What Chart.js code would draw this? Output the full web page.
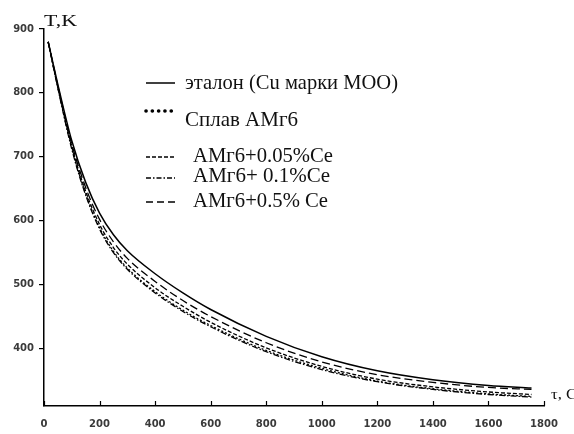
<!DOCTYPE html>
<html>
<head>
<meta charset="utf-8">
<script src="https://cdn.jsdelivr.net/npm/chart.js@4/dist/chart.umd.min.js"></script>
<style>
  html, body { margin: 0; padding: 0; background: #fff; }
</style>
</head>
<body>
<canvas id="chart" width="574" height="434"></canvas>
<script>
// time, s
const times = [15, 50, 100, 150, 200, 250, 300, 400, 500, 600, 800, 1000, 1200, 1400, 1600, 1755];
// temperature, K
const etalon = [880, 813, 725, 660, 612, 578, 553, 517, 487, 461, 419, 387, 365, 351, 342, 338];
const amg6   = [880, 808, 714, 642, 589, 552, 526, 489, 460, 436, 397, 369, 349, 337, 329, 325];
const ce005  = [880, 809, 716, 646, 594, 558, 532, 495, 466, 441, 401, 372, 352, 340, 332, 328];
const ce01   = [880, 807, 712, 640, 587, 550, 524, 487, 458, 434, 395, 367, 348, 336, 328, 324];
const ce05   = [880, 811, 720, 652, 602, 567, 541, 505, 475, 450, 409, 379, 359, 347, 339, 336];

const seriesLabels = [
    'эталон (Cu марки MOO)',
    'Сплав АМг6',
    'АМг6+0.05%Ce',
    'АМг6+ 0.1%Ce',
    'АМг6+0.5% Ce'
];
const xTicks = [0, 200, 400, 600, 800, 1000, 1200, 1400, 1600, 1800];
const yTicks = [400, 500, 600, 700, 800, 900];

const toPoints = (vals) => vals.map((v, i) => ({ x: times[i], y: v }));

// line styles per series (same order as labels)
const dashes = [[], [2, 2], [4, 2], [6, 2, 1.5, 2], [8, 4]];

// legend rows: sample line y, text placement
const legendRows = [
    { lineY: 83,  textX: 185, textY: 83,  textW: 213, dash: [],             width: 1.5, cap: 'butt' },
    { lineY: 111, textX: 185, textY: 120, textW: 113, dash: [0.1, 6.2],     width: 3.6, cap: 'round' },
    { lineY: 157, textX: 193, textY: 156, textW: 140, dash: [4, 2],         width: 1.3, cap: 'butt' },
    { lineY: 178, textX: 193, textY: 176, textW: 137, dash: [5, 2, 1.5, 2], width: 1.3, cap: 'butt' },
    { lineY: 202, textX: 193, textY: 201, textW: 135, dash: [7, 4],         width: 1.5, cap: 'butt' }
];

function fitText(ctx, text, x, y, w, font) {
    ctx.save();
    ctx.font = font;
    const m = ctx.measureText(text).width;
    ctx.translate(x, y);
    ctx.scale(w / m, 1);
    ctx.fillText(text, 0, 0);
    ctx.restore();
}

const decorPlugin = {
    id: 'decor',
    afterDraw(chart) {
        const ctx = chart.ctx;
        const xs = chart.scales.x;
        const ys = chart.scales.y;

        // x tick marks pointing into the plot
        ctx.save();
        ctx.strokeStyle = '#000';
        ctx.lineWidth = 1.2;
        xTicks.forEach(v => {
            const px = Math.round(xs.getPixelForValue(v)) + 0.5;
            ctx.beginPath();
            ctx.moveTo(px, ys.bottom);
            ctx.lineTo(px, ys.bottom - 5);
            ctx.stroke();
        });
        ctx.restore();

        // axis titles
        ctx.save();
        ctx.fillStyle = '#111';
        ctx.textBaseline = 'middle';
        fitText(ctx, 'T,K', 44, 22, 33, '16px "Liberation Serif", serif');
        fitText(ctx, 'τ, C', 551, 395, 26, '15px "Liberation Serif", serif');
        ctx.restore();

        // legend
        ctx.save();
        ctx.fillStyle = '#111';
        ctx.strokeStyle = '#000';
        ctx.textBaseline = 'middle';
        legendRows.forEach((r, i) => {
            ctx.save();
            ctx.lineWidth = r.width;
            ctx.lineCap = r.cap;
            ctx.setLineDash(r.dash);
            ctx.beginPath();
            ctx.moveTo(146, r.lineY);
            ctx.lineTo(175, r.lineY);
            ctx.stroke();
            ctx.restore();
            fitText(ctx, seriesLabels[i], r.textX, r.textY, r.textW, '22px "Liberation Serif", serif');
        });
        ctx.restore();
    }
};

const seriesData = [etalon, amg6, ce005, ce01, ce05];

new Chart(document.getElementById('chart'), {
    type: 'line',
    data: {
        datasets: seriesData.map((vals, i) => ({
            label: seriesLabels[i],
            data: toPoints(vals),
            borderColor: '#000',
            borderWidth: i === 0 ? 1.5 : 1.3,
            borderDash: dashes[i],
            pointRadius: 0,
            fill: false,
            cubicInterpolationMode: 'monotone'
        }))
    },
    options: {
        responsive: false,
        animation: false,
        layout: { padding: { top: 29, right: 30, left: 0, bottom: 0 } },
        plugins: {
            legend: { display: false },
            tooltip: { enabled: false }
        },
        scales: {
            x: {
                type: 'linear',
                min: 0,
                max: 1800,
                afterBuildTicks: (axis) => { axis.ticks = xTicks.map(v => ({ value: v })); },
                afterFit: (axis) => { axis.height = 28; },
                grid: { display: false, drawTicks: false },
                border: { display: true, color: '#000', width: 1.5 },
                ticks: {
                    color: '#3a3a3a',
                    padding: 12,
                    maxRotation: 0,
                    callback: (v) => String(v),
                    font: { family: '"DejaVu Sans", sans-serif', size: 10, weight: 'bold' }
                }
            },
            y: {
                type: 'linear',
                min: 310,
                max: 900,
                afterBuildTicks: (axis) => { axis.ticks = yTicks.map(v => ({ value: v })); },
                afterFit: (axis) => { axis.width = 44; },
                grid: {
                    display: true,
                    drawOnChartArea: false,
                    drawTicks: true,
                    tickLength: 5,
                    color: '#000',
                    lineWidth: 1.2
                },
                border: { display: true, color: '#000', width: 1.5 },
                ticks: {
                    color: '#3a3a3a',
                    padding: 5,
                    callback: (v) => String(v),
                    font: { family: '"DejaVu Sans", sans-serif', size: 10, weight: 'bold' }
                }
            }
        }
    },
    plugins: [decorPlugin]
});
</script>
</body>
</html>
